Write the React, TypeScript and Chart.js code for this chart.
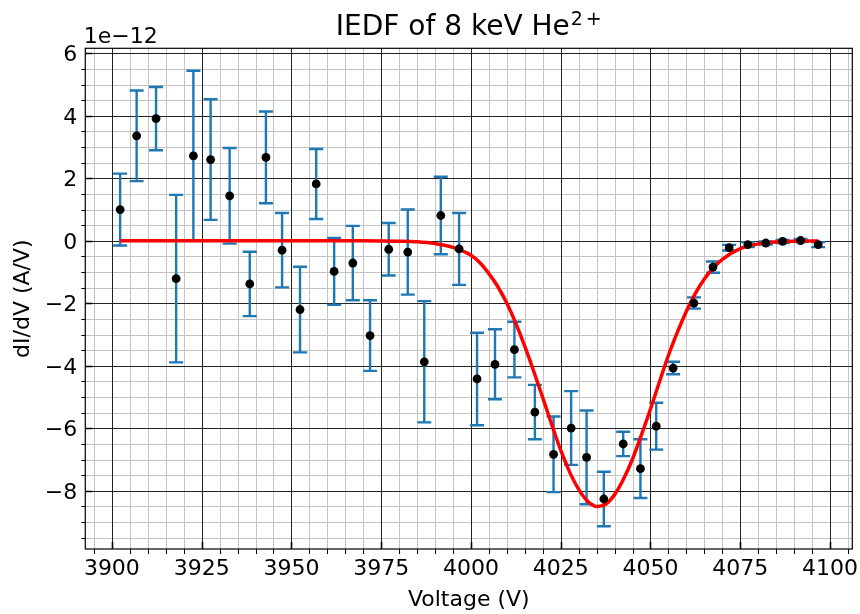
import React, { useEffect, useRef } from "react";
import { Chart, registerables } from "chart.js";

Chart.register(...registerables);

// Measured points: voltage (V) and dI/dV in units of 1e-12 A/V
const voltages = [
  3902.3, 3906.9, 3912.3, 3917.9, 3922.7, 3927.5, 3932.8, 3938.4, 3942.9, 3947.4,
  3952.4, 3956.9, 3961.9, 3967.1, 3971.9, 3977.1, 3982.4, 3987.0, 3991.6, 3996.7,
  4001.7, 4006.7, 4012.1, 4017.8, 4023.0, 4027.9, 4032.2, 4037.0, 4042.4, 4047.2,
  4051.6, 4056.3, 4062.1, 4067.4, 4071.9, 4077.1, 4082.1, 4086.8, 4091.8, 4096.7,
];
const dIdV = [
  1.0, 3.36, 3.91, -1.21, 2.72, 2.6, 1.44, -1.38, 2.67, -0.3,
  -2.2, 1.82, -0.98, -0.71, -3.03, -0.27, -0.36, -3.87, 0.81, -0.26,
  -4.42, -3.95, -3.48, -5.48, -6.83, -5.99, -6.93, -8.26, -6.5, -7.29,
  -5.93, -4.07, -1.99, -0.84, -0.22, -0.12, -0.07, -0.02, 0.01, -0.12,
];
const dIdVErr = [
  1.15, 1.45, 1.01, 2.68, 2.72, 1.93, 1.53, 1.03, 1.47, 1.19,
  1.37, 1.12, 1.07, 1.19, 1.13, 0.84, 1.36, 1.94, 1.24, 1.15,
  1.48, 1.12, 0.89, 0.87, 1.21, 1.18, 1.5, 0.87, 0.39, 0.94,
  0.75, 0.2, 0.18, 0.18, 0.09, 0.08, 0.05, 0.05, 0.05, 0.08,
];

// Fitted curve
const fitVoltages = [
  3902.3, 3930, 3960, 3970, 3975, 3980, 3985, 3990, 3995, 4000,
  4002.5, 4005, 4007.5, 4010, 4012.5, 4015, 4017.5, 4020, 4022.5, 4025,
  4027.5, 4030, 4032.5, 4035, 4037.5, 4040, 4042.5, 4045, 4047.5, 4050,
  4052.5, 4055, 4057.5, 4060, 4062.5, 4065, 4067.5, 4070, 4075, 4080,
  4085, 4090, 4096.7,
];
const fitValues = [
  0, 0, 0, 0, -0.003, -0.01, -0.03, -0.09, -0.21, -0.46,
  -0.7, -1.05, -1.47, -2.0, -2.64, -3.38, -4.18, -5.02, -5.88, -6.7,
  -7.4, -7.95, -8.33, -8.5, -8.43, -8.12, -7.62, -6.98, -6.2, -5.38,
  -4.51, -3.66, -2.92, -2.25, -1.68, -1.22, -0.86, -0.59, -0.25, -0.1,
  -0.037, -0.012, -0.002,
];

// Axes
const xMajorTicks = [3900, 3925, 3950, 3975, 4000, 4025, 4050, 4075, 4100];
const yMajorTicks = [-8, -6, -4, -2, 0, 2, 4, 6];
const xMinorStep = 5;
const yMinorStep = 0.5;
const xRange = [3892.6, 4106.2];
const yRange = [-9.86, 6.16];

const titleMain = "IEDF of 8 keV He";
const titleSup = ["2", "+"];
const xTitle = "Voltage (V)";
const yTitle = "dI/dV (A/V)";
const offsetText = "1e\u221212";

const FONT = '"DejaVu Sans", sans-serif';

function stepValues(min: number, max: number, step: number): number[] {
  const out: number[] = [];
  for (let k = Math.ceil(min / step - 1e-9); k * step <= max + 1e-9; k++) {
    out.push(+(k * step).toFixed(6));
  }
  return out;
}

function fmt(v: number): string {
  return v < 0 ? "\u2212" + Math.abs(v) : String(v);
}

const decorPlugin = {
  id: "decor",
  beforeDatasetsDraw(chart: any) {
    const { ctx, chartArea: a, scales } = chart;
    const x = scales.x;
    const y = scales.y;
    ctx.save();
    // minor grid
    ctx.lineWidth = 1;
    ctx.strokeStyle = "#c4c4c4";
    ctx.beginPath();
    for (const v of stepValues(xRange[0], xRange[1], xMinorStep)) {
      if (xMajorTicks.includes(v)) continue;
      const px = Math.round(x.getPixelForValue(v)) + 0.5;
      ctx.moveTo(px, a.top);
      ctx.lineTo(px, a.bottom);
    }
    for (const v of stepValues(yRange[0], yRange[1], yMinorStep)) {
      if (yMajorTicks.includes(v)) continue;
      const py = Math.round(y.getPixelForValue(v)) + 0.5;
      ctx.moveTo(a.left, py);
      ctx.lineTo(a.right, py);
    }
    ctx.stroke();
    // major grid
    ctx.strokeStyle = "#222";
    ctx.beginPath();
    for (const v of xMajorTicks) {
      const px = Math.round(x.getPixelForValue(v)) + 0.5;
      ctx.moveTo(px, a.top);
      ctx.lineTo(px, a.bottom);
    }
    for (const v of yMajorTicks) {
      const py = Math.round(y.getPixelForValue(v)) + 0.5;
      ctx.moveTo(a.left, py);
      ctx.lineTo(a.right, py);
    }
    ctx.stroke();

    // error bars
    ctx.beginPath();
    ctx.rect(a.left, a.top, a.right - a.left, a.bottom - a.top);
    ctx.clip();
    ctx.strokeStyle = "#1f77b4";
    ctx.lineWidth = 2.4;
    ctx.lineCap = "butt";
    ctx.beginPath();
    for (let i = 0; i < voltages.length; i++) {
      const px = x.getPixelForValue(voltages[i]);
      const top = y.getPixelForValue(dIdV[i] + dIdVErr[i]);
      const bot = y.getPixelForValue(dIdV[i] - dIdVErr[i]);
      ctx.moveTo(px, top);
      ctx.lineTo(px, bot);
      ctx.moveTo(px - 7, top);
      ctx.lineTo(px + 7, top);
      ctx.moveTo(px - 7, bot);
      ctx.lineTo(px + 7, bot);
    }
    ctx.stroke();
    ctx.restore();
  },
  afterDatasetsDraw(chart: any) {
    const { ctx, chartArea: a, scales } = chart;
    const x = scales.x;
    const y = scales.y;
    ctx.save();
    // spines
    ctx.strokeStyle = "#000";
    ctx.lineWidth = 1.2;
    ctx.strokeRect(a.left, a.top, a.right - a.left, a.bottom - a.top);

    // ticks: minor outward, major inward
    ctx.lineWidth = 1;
    ctx.beginPath();
    for (const v of stepValues(xRange[0], xRange[1], xMinorStep)) {
      if (xMajorTicks.includes(v)) continue;
      const px = Math.round(x.getPixelForValue(v)) + 0.5;
      ctx.moveTo(px, a.bottom);
      ctx.lineTo(px, a.bottom + 5);
    }
    for (const v of stepValues(yRange[0], yRange[1], yMinorStep)) {
      if (yMajorTicks.includes(v)) continue;
      const py = Math.round(y.getPixelForValue(v)) + 0.5;
      ctx.moveTo(a.left - 4, py);
      ctx.lineTo(a.left, py);
    }
    ctx.stroke();
    ctx.lineWidth = 1.6;
    ctx.beginPath();
    for (const v of xMajorTicks) {
      const px = Math.round(x.getPixelForValue(v)) + 0.5;
      ctx.moveTo(px, a.bottom);
      ctx.lineTo(px, a.bottom - 7);
    }
    for (const v of yMajorTicks) {
      const py = Math.round(y.getPixelForValue(v)) + 0.5;
      ctx.moveTo(a.left, py);
      ctx.lineTo(a.left + 7, py);
    }
    ctx.stroke();

    // texts
    ctx.fillStyle = "#000";
    ctx.textBaseline = "alphabetic";
    const cx = (a.left + a.right) / 2;

    // title with superscript
    ctx.font = `28px ${FONT}`;
    const wMain = ctx.measureText(titleMain).width;
    ctx.font = `19px ${FONT}`;
    const w2 = ctx.measureText(titleSup[0]).width;
    const wPlus = ctx.measureText(titleSup[1]).width;
    const gap = 3;
    const total = wMain + 1 + w2 + gap + wPlus;
    let tx = cx - total / 2;
    ctx.textAlign = "left";
    ctx.font = `28px ${FONT}`;
    ctx.fillText(titleMain, tx, 34.5);
    tx += wMain + 1;
    ctx.font = `19px ${FONT}`;
    ctx.fillText(titleSup[0], tx, 25);
    tx += w2 + gap;
    ctx.fillText(titleSup[1], tx, 25);

    // offset text
    ctx.font = `22px ${FONT}`;
    ctx.textAlign = "left";
    ctx.fillText(offsetText, a.left - 1.5, 42.7);

    // x title
    ctx.textAlign = "center";
    ctx.fillText(xTitle, cx, 606);

    // y title
    ctx.save();
    ctx.translate(28.5, (a.top + a.bottom) / 2);
    ctx.rotate(-Math.PI / 2);
    ctx.textAlign = "center";
    ctx.fillText(yTitle, 0, 0);
    ctx.restore();

    ctx.restore();
  },
};

export default function App() {
  const canvasRef = useRef<HTMLCanvasElement | null>(null);

  useEffect(() => {
    document.body.style.margin = "0";
    const canvas = canvasRef.current;
    if (!canvas) return;
    const chart = new Chart(canvas, {
      type: "scatter",
      data: {
        datasets: [
          {
            label: "data",
            data: voltages.map((v, i) => ({ x: v, y: dIdV[i] })),
            pointRadius: 4.4,
            pointHoverRadius: 4.4,
            pointBackgroundColor: "#000",
            pointBorderWidth: 0,
            showLine: false,
            order: 0,
          },
          {
            label: "fit",
            data: fitVoltages.map((v, i) => ({ x: v, y: fitValues[i] })),
            showLine: true,
            pointRadius: 0,
            borderColor: "#ff0000",
            borderWidth: 3.5,
            cubicInterpolationMode: "monotone",
            fill: false,
            order: 1,
          },
        ],
      },
      options: {
        responsive: false,
        animation: false,
        events: [],
        layout: { padding: { top: 48.3, right: 7.7, left: 0, bottom: 0 } },
        plugins: {
          legend: { display: false },
          tooltip: { enabled: false },
          title: { display: false },
        },
        scales: {
          x: {
            type: "linear",
            min: xRange[0],
            max: xRange[1],
            grid: { display: false, drawTicks: false },
            border: { display: false },
            afterBuildTicks: (s: any) => {
              s.ticks = stepValues(xRange[0], xRange[1], xMinorStep).map((v) => ({ value: v }));
            },
            afterFit: (s: any) => {
              s.height = 65;
            },
            ticks: {
              autoSkip: false,
              maxRotation: 0,
              minRotation: 0,
              padding: 7,
              color: "#000",
              font: { family: FONT, size: 22 },
              callback: (v: any) => (xMajorTicks.includes(+v) ? String(v) : ""),
            },
          },
          y: {
            type: "linear",
            min: yRange[0],
            max: yRange[1],
            grid: { display: false, drawTicks: false },
            border: { display: false },
            afterBuildTicks: (s: any) => {
              s.ticks = stepValues(yRange[0], yRange[1], yMinorStep).map((v) => ({ value: v }));
            },
            afterFit: (s: any) => {
              s.width = 85.3;
            },
            ticks: {
              autoSkip: false,
              padding: 8,
              labelOffset: 2,
              color: "#000",
              font: { family: FONT, size: 22 },
              callback: (v: any) => (yMajorTicks.includes(+v) ? fmt(+v) : ""),
            },
          },
        },
      },
      plugins: [decorPlugin],
    });
    return () => chart.destroy();
  }, []);

  return (
    <div style={{ width: 860, height: 614, background: "#fff" }}>
      <canvas ref={canvasRef} width={860} height={614} />
    </div>
  );
}
